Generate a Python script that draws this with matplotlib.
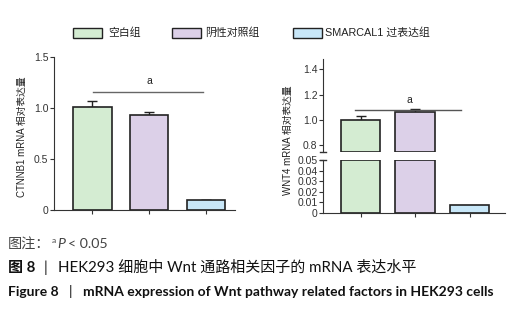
import matplotlib
matplotlib.use("Agg")
import matplotlib.pyplot as plt
from matplotlib.patches import Rectangle
from matplotlib.lines import Line2D

plt.rcParams['font.family'] = ['Liberation Sans', 'Noto Sans CJK SC', 'DejaVu Sans']

groups = ['空白组', '阴性对照组', 'SMARCAL1 过表达组']
colors = ['#d4ecd2', '#dcd0e8', '#c8e7f8']

ctnnb1_vals = [1.013, 0.928, 0.096]
ctnnb1_err = [0.06, 0.03, 0.005]
wnt4_vals = [1.00, 1.064, 0.007]
wnt4_err = [0.03, 0.02, 0.0]

left_ticks = [0, 0.5, 1.0, 1.5]
left_ticklabels = ['0', '0.5', '1.0', '1.5']
right_top_ticks = [0.8, 1.0, 1.2, 1.4]
right_bot_ticks = [0, 0.01, 0.02, 0.03, 0.04, 0.05]
right_bot_labels = ['0', '0.01', '0.02', '0.03', '0.04', '0.05']

W, H = 528, 327
fig = plt.figure(figsize=(W / 100, H / 100), dpi=100)

def ax_px(x0, y_top, x1, y_bot):
    return fig.add_axes([x0 / W, 1 - y_bot / H, (x1 - x0) / W, (y_bot - y_top) / H])

axcol = '#333333'
tick_fs = 7.5

def style(ax, bottom=True):
    for s in ['top', 'right']:
        ax.spines[s].set_visible(False)
    ax.spines['left'].set_color(axcol)
    ax.spines['bottom'].set_color(axcol)
    ax.spines['bottom'].set_visible(bottom)
    ax.tick_params(axis='y', colors=axcol, labelsize=tick_fs, length=3, width=0.8, pad=1)
    ax.tick_params(axis='x', colors=axcol, length=3, width=0.8, labelbottom=False)

# ---------- left chart ----------
axL = ax_px(54, 57, 235, 210)
x = [0, 1, 2]
axL.bar(x, ctnnb1_vals, width=0.684, color=colors, edgecolor='#222222', linewidth=1.2, zorder=2)
axL.errorbar(x, ctnnb1_vals, yerr=[[0, 0, 0], ctnnb1_err], fmt='none', ecolor='#222222',
             elinewidth=1.0, capsize=3.6, capthick=1.0, zorder=1)
axL.set_xlim(-0.667, 2.509)
axL.set_ylim(0, 1.5)
axL.set_yticks(left_ticks)
axL.set_yticklabels(left_ticklabels)
axL.set_xticks(x)
style(axL)
axL.plot([0.02, 1.95], [1.155, 1.155], color='#666666', lw=1.0, zorder=3)
axL.text(1.0, 1.22, 'a', ha='center', va='bottom', fontsize=7.5, color='#222222')
fig.text(22 / W, 1 - 137 / H, 'CTNNB1 mRNA 相对表达量', rotation=90, ha='center', va='center',
         fontsize=7.0, color='#222222')

# ---------- right chart (broken axis) ----------
xr0, xr1 = 323, 505
axT = ax_px(xr0, 59, xr1, 151.7)
axB = ax_px(xr0, 160, xr1, 212.7)
brk_top_low = 0.75
brk_bot_high = 0.05
xl = (-0.688, 2.651)
wr = 0.716

idx_top = [i for i, v in enumerate(wnt4_vals) if v > brk_top_low]
axT.bar([x[i] for i in idx_top], [wnt4_vals[i] - brk_top_low for i in idx_top],
        bottom=brk_top_low, width=wr, color=[colors[i] for i in idx_top],
        edgecolor='#222222', linewidth=1.2, zorder=2)
axT.errorbar([x[i] for i in idx_top], [wnt4_vals[i] for i in idx_top],
             yerr=[[0] * len(idx_top), [wnt4_err[i] for i in idx_top]], fmt='none',
             ecolor='#222222', elinewidth=1.0, capsize=3.6, capthick=1.0, zorder=1)
axT.set_xlim(*xl)
axT.set_ylim(brk_top_low, 1.48)
axT.set_yticks(right_top_ticks)
axT.set_yticklabels(['0.8', '1.0', '1.2', '1.4'])
axT.set_xticks([])
style(axT, bottom=False)
axT.plot([-0.1, 1.85], [1.082, 1.082], color='#555555', lw=1.0, zorder=3, clip_on=False)
axT.text(0.9, 1.12, 'a', ha='center', va='bottom', fontsize=7.5, color='#222222')

bot_vals = [min(v, brk_bot_high) for v in wnt4_vals]
axB.bar(x, bot_vals, width=wr, color=colors, edgecolor='#222222', linewidth=1.2, zorder=2)
axB.set_xlim(*xl)
axB.set_ylim(0, brk_bot_high)
axB.set_yticks(right_bot_ticks)
axB.set_yticklabels(right_bot_labels)
axB.set_xticks(x)
style(axB)

# break marks
for yb in (151.7, 160):
    fig.add_artist(Line2D([(xr0 - 3) / W, (xr0 + 3) / W], [1 - yb / H, 1 - yb / H],
                          color=axcol, lw=1.0))

fig.text(288 / W, 1 - 140 / H, 'WNT4 mRNA 相对表达量', rotation=90, ha='center', va='center',
         fontsize=7.0, color='#222222')

# ---------- legend ----------
leg_x = [73, 172, 293]
leg_tx = [108, 205, 325]
for lx, tx, c, g in zip(leg_x, leg_tx, colors, groups):
    fig.add_artist(Rectangle((lx / W, 1 - 37.5 / H), 29 / W, 9.5 / H, facecolor=c,
                             edgecolor='#222222', linewidth=1.0))
    fig.text(tx / W, 1 - 32.5 / H, g, ha='left', va='center', fontsize=7.8, color='#222222')

# ---------- captions ----------
cap_fam = ['Lato', 'Noto Sans CJK SC', 'DejaVu Sans']
fig.text(8 / W, 1 - 244 / H, '图注：', ha='left', va='center',
         fontsize=10.2, color='#444444', family=cap_fam)
fig.text(52 / W, 1 - 240.5 / H, 'a', ha='left', va='center',
         fontsize=6, color='#444444', family=cap_fam)
fig.text(57.5 / W, 1 - 244 / H, 'P', ha='left', va='center', fontstyle='italic',
         fontsize=10.2, color='#444444', family=cap_fam)
fig.text(68 / W, 1 - 244 / H, '< 0.05', ha='left', va='center',
         fontsize=10.2, color='#444444', family=cap_fam)
fig.text(8 / W, 1 - 268 / H, '图 8', ha='left', va='center', fontsize=10.8, color='#111111',
         family=cap_fam, fontweight='bold')
fig.text(44 / W, 1 - 268 / H, '|', ha='left', va='center', fontsize=10.8, color='#111111',
         family=cap_fam)
fig.text(58 / W, 1 - 268 / H, 'HEK293 细胞中 Wnt 通路相关因子的 mRNA 表达水平', ha='left',
         va='center', fontsize=10.8, color='#111111', family=cap_fam)
fig.text(8 / W, 1 - 292 / H, 'Figure 8', ha='left', va='center', fontsize=10,
         color='#111111', family=cap_fam, fontweight='bold')
fig.text(69 / W, 1 - 292 / H, '|', ha='left', va='center', fontsize=10,
         color='#111111', family=cap_fam)
fig.text(83 / W, 1 - 292 / H, 'mRNA expression of Wnt pathway related factors in HEK293 cells',
         ha='left', va='center', fontsize=10, color='#111111', family=cap_fam, fontweight='bold')

fig.savefig('out.png', dpi=100)
